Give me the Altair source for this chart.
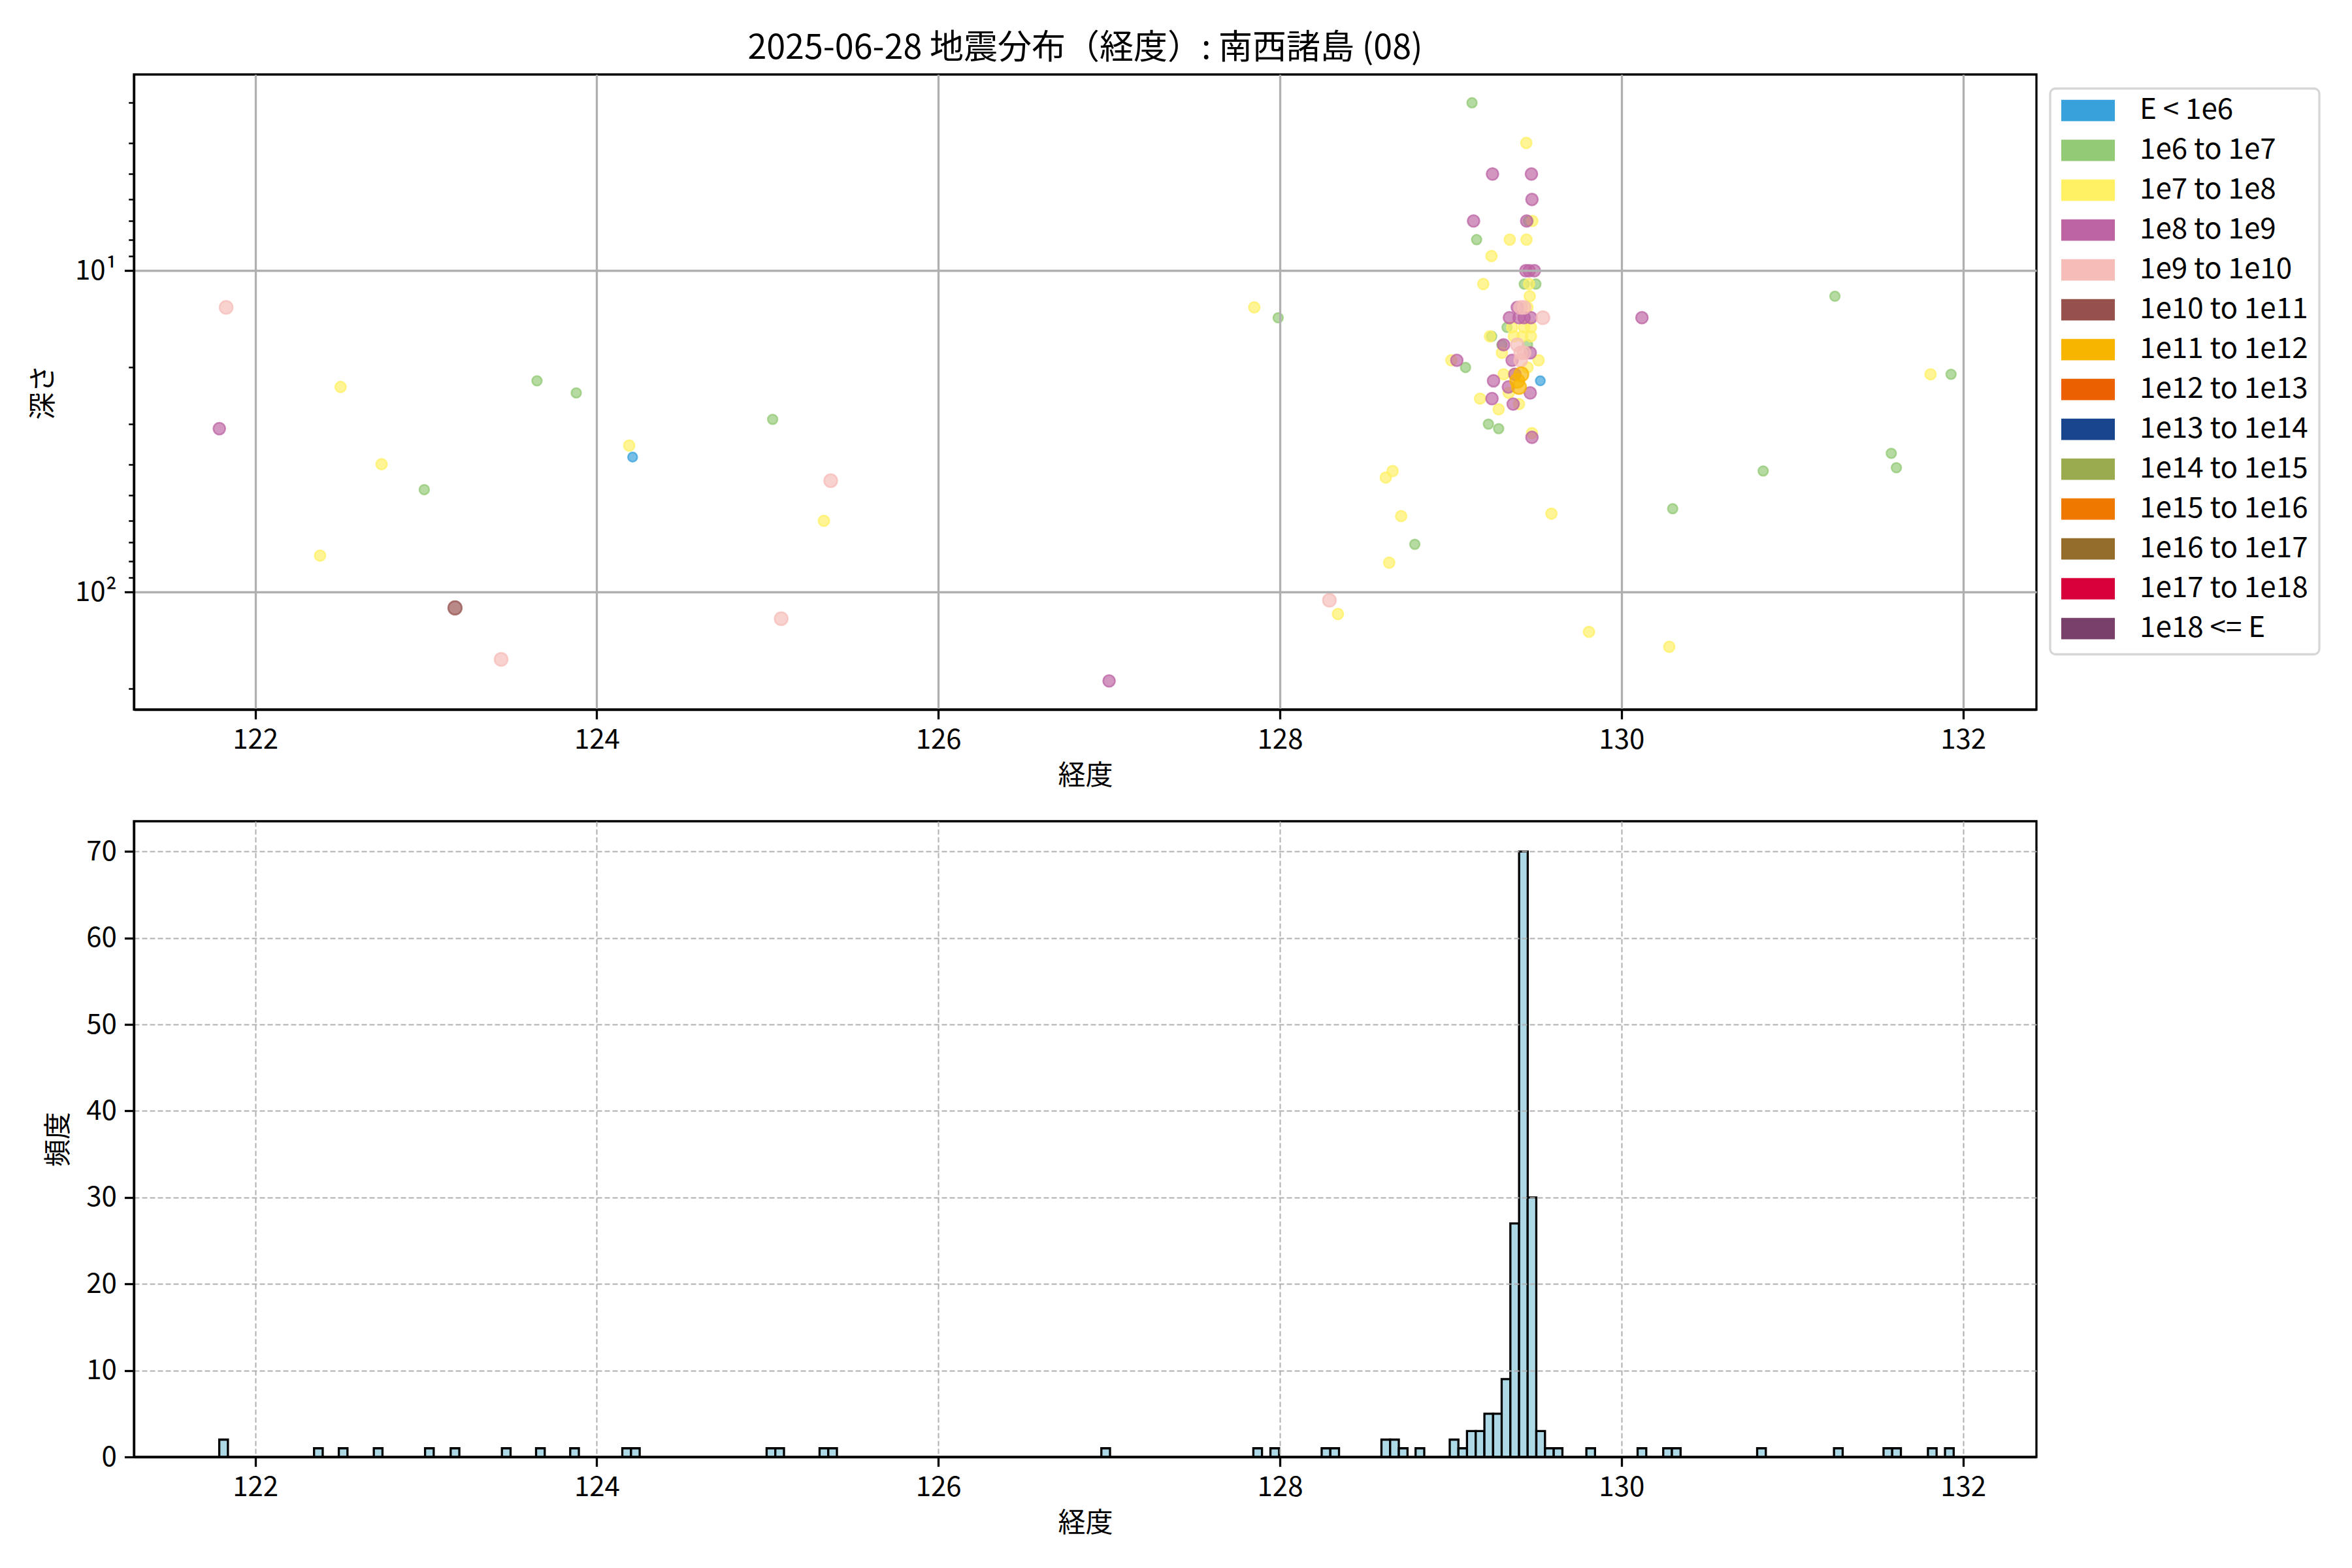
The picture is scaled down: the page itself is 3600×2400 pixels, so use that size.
import altair as alt
import pandas as pd

FONT = "Noto Sans CJK JP"

# ---- energy classes (legend) ----
classes = ["E < 1e6", "1e6 to 1e7", "1e7 to 1e8", "1e8 to 1e9", "1e9 to 1e10",
           "1e10 to 1e11", "1e11 to 1e12", "1e12 to 1e13", "1e13 to 1e14",
           "1e14 to 1e15", "1e15 to 1e16", "1e16 to 1e17", "1e17 to 1e18", "1e18 <= E"]
class_colors = ["#38a1db", "#93ca76", "#fff064", "#bc64a4", "#f5bcb8",
                "#96514d", "#f8b500", "#eb6101", "#19448e",
                "#9aab4f", "#ee7800", "#946c2c", "#d7003a", "#7a406c"]
class_point_size = [200, 220, 270, 330, 400, 430, 480, 500, 520, 540, 560, 580, 600, 620]

# ---- scatter events: longitude, depth (km), energy class index ----
ev_lon = [121.83, 121.79, 122.50, 122.74, 122.38, 122.99, 123.17, 123.44, 123.65, 123.88,
          124.19, 124.21, 125.03, 125.37, 125.33, 125.08, 127.00,
          127.85, 127.99, 128.29, 128.34, 128.62, 128.66, 128.71, 128.64, 128.79,
          129.81, 130.28, 129.59, 130.30, 130.83, 131.25, 131.81, 131.93, 131.58, 131.61,
          130.12, 129.54,
          129.125, 129.443, 129.245, 129.473, 129.476,
          129.134, 129.445, 129.455, 129.478,
          129.152, 129.346, 129.444, 129.239,
          129.44, 129.46, 129.49,
          129.191, 129.431, 129.459, 129.499, 129.463,
          129.39, 129.41, 129.43, 129.45,
          129.344, 129.40, 129.43, 129.47,
          129.33, 129.36, 129.43, 129.47,
          129.23, 129.24, 129.37, 129.42, 129.47,
          129.30, 129.31, 129.39, 129.45,
          129.41, 129.43, 129.466, 129.30,
          129.004, 129.036, 129.515, 129.36, 129.41, 129.087,
          129.31, 129.37, 129.45, 129.376, 129.414,
          129.525, 129.251, 129.338, 129.40, 129.39,
          129.466, 129.34, 129.172, 129.242, 129.281,
          129.366, 129.40, 129.221, 129.281, 129.476, 129.476]
ev_depth = [13, 31, 23, 40, 77, 48, 112, 162, 22, 24,
            35, 38, 29, 45, 60, 121, 189,
            13, 14, 106, 117, 44, 42, 58, 81, 71,
            133, 148, 57, 55, 42, 12, 21, 21, 37, 41,
            14, 14,
            3, 4, 5, 5, 6,
            7, 7, 7, 7,
            8, 8, 8, 9,
            10, 10, 10,
            11, 11, 11, 11, 12,
            13, 13, 13, 13,
            14, 14, 14, 14,
            15, 15, 15, 15,
            16, 16, 16, 16, 16,
            17, 17, 17, 17,
            18, 18, 18, 18,
            19, 19, 19, 19, 19, 20,
            21, 21, 20, 21, 21,
            22, 22, 23, 23, 22,
            24, 24, 25, 25, 27,
            26, 26, 30, 31, 32, 33]
ev_class = [4, 3, 2, 2, 2, 1, 5, 4, 1, 1,
            2, 0, 1, 4, 2, 4, 3,
            2, 1, 4, 2, 2, 2, 2, 2, 1,
            2, 2, 2, 1, 1, 1, 2, 1, 1, 1,
            3, 4,
            1, 2, 3, 3, 3,
            3, 3, 1, 2,
            1, 2, 2, 2,
            3, 3, 3,
            2, 1, 2, 1, 2,
            3, 4, 4, 2,
            3, 3, 3, 3,
            1, 2, 2, 2,
            2, 1, 2, 2, 2,
            1, 3, 4, 1,
            4, 4, 3, 2,
            2, 3, 2, 3, 4, 1,
            2, 2, 2, 3, 6,
            0, 3, 3, 6, 6,
            3, 2, 2, 3, 2,
            3, 2, 1, 1, 2, 3]

# ---- histogram of longitudes (bin centres, counts) ----
hist_center = [121.815, 122.37, 122.515, 122.72, 123.02, 123.17, 123.47, 123.67, 123.87,
               124.175, 124.226, 125.02, 125.071, 125.33, 125.381, 126.98,
               127.87, 127.97, 128.27, 128.321, 128.62, 128.671, 128.722, 128.82,
               129.02, 129.071, 129.121, 129.172, 129.223, 129.274, 129.324, 129.375,
               129.426, 129.476, 129.527, 129.578, 129.629,
               129.82, 130.12, 130.27, 130.321, 130.82, 131.27, 131.56, 131.611, 131.82, 131.92]
hist_count = [2, 1, 1, 1, 1, 1, 1, 1, 1,
              1, 1, 1, 1, 1, 1, 1,
              1, 1, 1, 1, 2, 2, 1, 1,
              2, 1, 3, 3, 5, 5, 9, 27,
              70, 30, 3, 1, 1,
              1, 1, 1, 1, 1, 1, 1, 1, 1, 1]
hist_width = 0.0507

lon_ticks = [122, 124, 126, 128, 130, 132]
depth_ticks = [3, 4, 5, 6, 7, 8, 9, 10, 20, 30, 40, 50, 60, 70, 80, 90, 100, 200]
count_ticks = [0, 10, 20, 30, 40, 50, 60, 70]
lon_domain = [121.29, 132.43]
depth_domain = [2.45, 232]
count_domain = [0, 73.5]

TITLE = "2025-06-28 地震分布（経度）: 南西諸島 (08)"

df = pd.DataFrame({"lon": ev_lon, "depth": ev_depth, "k": ev_class})
df["cls"] = [classes[i] for i in df["k"]]
df = df.sort_values("k", kind="stable").reset_index(drop=True)

hdf = pd.DataFrame({"center": hist_center, "count": hist_count})

W = 2912
H1 = 972
H2 = 973

major = "datum.value == 10 || datum.value == 100"

x_axis_top = alt.Axis(title="経度", values=lon_ticks, format="d", grid=True,
                      gridColor="#b0b0b0", gridWidth=3.3, zindex=1)
y_axis_top = alt.Axis(title="深さ", values=depth_ticks,
                      labelExpr="datum.value == 10 ? '10¹' : (datum.value == 100 ? '10²' : '')",
                      grid=True,
                      gridOpacity={"condition": {"test": major, "value": 1}, "value": 0},
                      gridColor="#b0b0b0", gridWidth=3.3,
                      tickSize={"condition": {"test": major, "value": 14.6}, "value": 8.3},
                      tickWidth={"condition": {"test": major, "value": 3.3}, "value": 2.5},
                      titlePadding=26, zindex=1)

legend = alt.Legend(title=None, orient="none", legendX=2933, legendY=21.5,
                    symbolType="M-1,-0.4L1,-0.4L1,0.4L-1,0.4Z",
                    symbolSize=6724, symbolOpacity=1, symbolStrokeWidth=0,
                    clipHeight=33, rowPadding=16, labelOffset=38,
                    labelFontSize=44, labelFont=FONT, labelColor="black",
                    padding=17, strokeColor="#d6d6d6",
                    cornerRadius=8, fillColor="white", labelLimit=600)

scatter = alt.Chart(df).mark_circle(filled=True, fillOpacity=0.68, strokeOpacity=0.75,
                                    strokeWidth=2.5).encode(
    x=alt.X("lon:Q", scale=alt.Scale(domain=lon_domain, nice=False, zero=False), axis=x_axis_top),
    y=alt.Y("depth:Q", scale=alt.Scale(type="log", domain=depth_domain, reverse=True, nice=False),
            axis=y_axis_top),
    color=alt.Color("cls:N", scale=alt.Scale(domain=classes, range=class_colors), legend=legend),
    stroke=alt.Stroke("cls:N", scale=alt.Scale(domain=classes, range=class_colors), legend=None),
    size=alt.Size("k:N", scale=alt.Scale(type="ordinal", domain=list(range(len(classes))),
                                         range=class_point_size),
                  legend=None),
    order=alt.Order("k:Q"),
).properties(
    width=W, height=H1,
    title=alt.Title(TITLE, fontSize=52, font=FONT, fontWeight="normal", anchor="middle",
                    frame="group", offset=13, color="black"),
)

x_axis_bot = alt.Axis(title="経度", values=lon_ticks, format="d", grid=True,
                      gridColor="#b0b0b0", gridWidth=2, gridDash=[8, 4], zindex=1)
y_axis_bot = alt.Axis(title="頻度", values=count_ticks, grid=True,
                      gridColor="#b0b0b0", gridWidth=2, gridDash=[8, 4],
                      titlePadding=20, zindex=1)

hist = alt.Chart(hdf).transform_calculate(
    x0=f"datum.center - {hist_width} / 2",
    x1=f"datum.center + {hist_width} / 2",
).mark_bar(fill="#add8e6", stroke="black", strokeWidth=3.3).encode(
    x=alt.X("x0:Q", scale=alt.Scale(domain=lon_domain, nice=False, zero=False), axis=x_axis_bot),
    x2="x1:Q",
    y=alt.Y("count:Q", scale=alt.Scale(domain=count_domain, nice=False), axis=y_axis_bot),
    y2=alt.datum(0),
).properties(width=W, height=H2)

chart = alt.vconcat(scatter, hist, spacing=44).properties(
    padding={"left": 35, "top": 38, "right": 10, "bottom": 10},
    background="white",
).configure_axis(
    labelFont=FONT, titleFont=FONT, labelFontSize=42, titleFontSize=42,
    labelColor="black", titleColor="black", tickColor="black", domainColor="black",
    domainWidth=3.3, tickWidth=3.3, tickSize=14.6, labelPadding=12,
    titleFontWeight="normal", titlePadding=14,
).configure_legend(
    strokeWidth=3.3
).configure_view(
    stroke="black", strokeWidth=3.3
)

chart.save("out.html", embed_options={"renderer": "svg", "actions": False})
